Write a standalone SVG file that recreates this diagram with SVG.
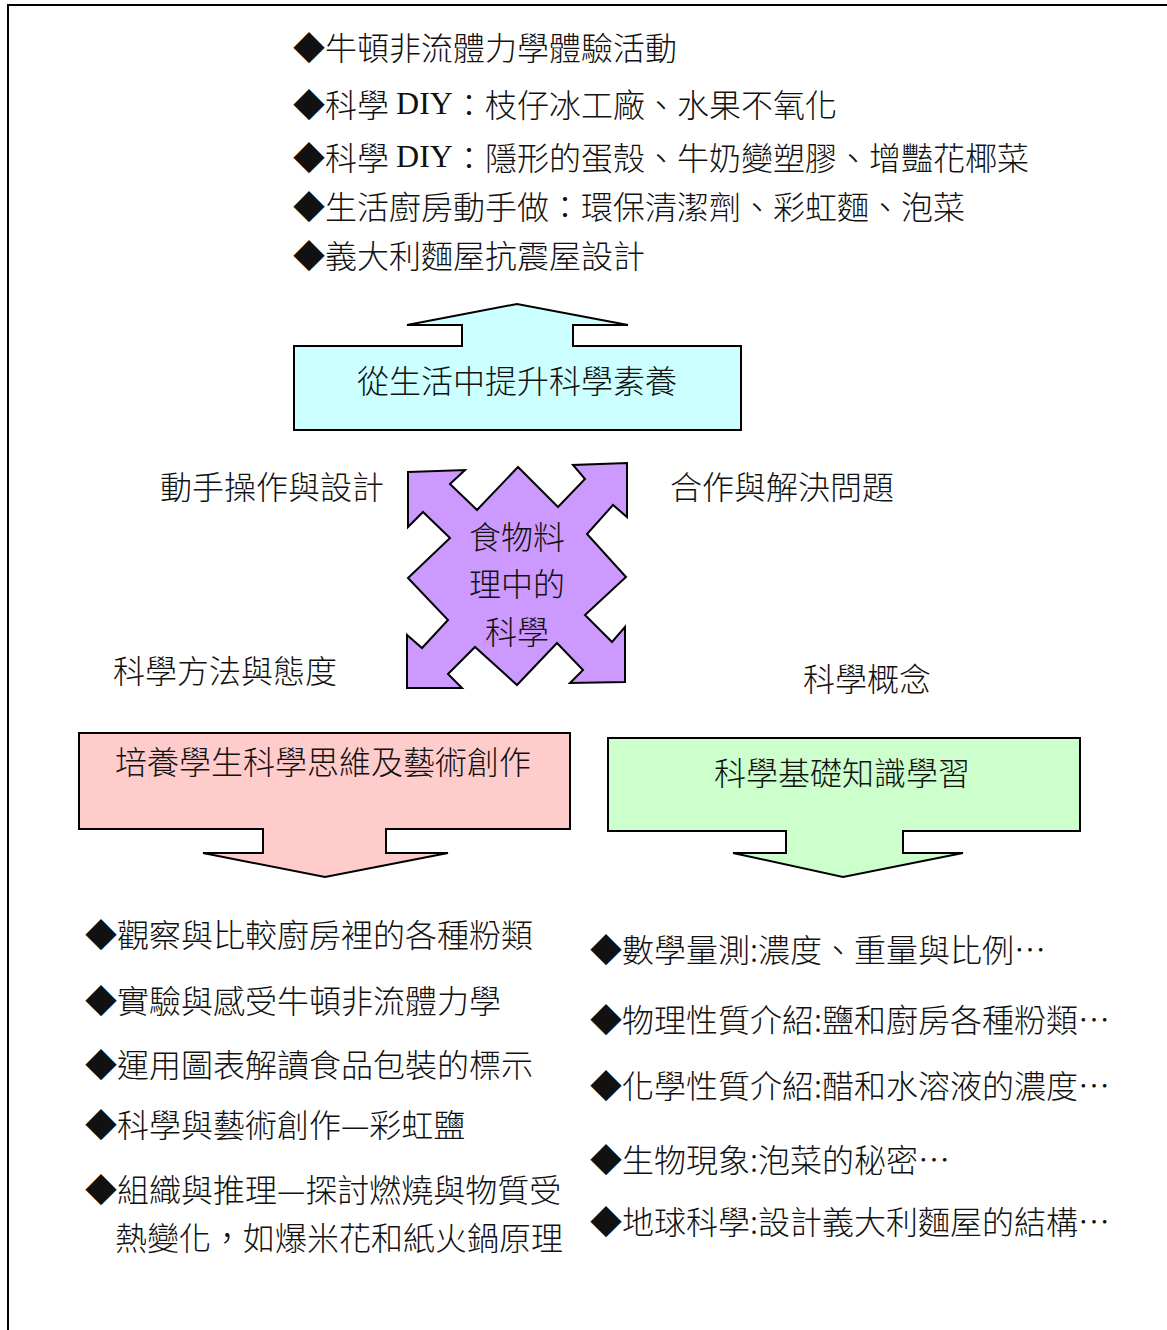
<svg xmlns="http://www.w3.org/2000/svg" width="1167" height="1330" viewBox="0 0 1167 1330">
<style>
  .t { font-family: "Noto Sans CJK TC", "Noto Sans CJK SC", sans-serif; font-size: 32px; font-weight: 300; fill: #111; dominant-baseline: central; }
  .c { text-anchor: middle; }
  .lat { font-family: "Liberation Serif", serif; }
  .shape { stroke: #000; stroke-width: 2; stroke-linejoin: miter; }
</style>
<rect width="1167" height="1330" fill="#fff"/>
<g id="frame">
  <path d="M1167,5 H8 V1330" fill="none" stroke="#000" stroke-width="2"/>
</g>
<g id="top-list">
  <text class="t" x="293" y="46">◆牛頓非流體力學體驗活動</text>
  <text class="t" x="293" y="103">◆科學 <tspan class="lat">DIY</tspan>：枝仔冰工廠、水果不氧化</text>
  <text class="t" x="293" y="156">◆科學 <tspan class="lat">DIY</tspan>：隱形的蛋殼、牛奶變塑膠、增豔花椰菜</text>
  <text class="t" x="293" y="205">◆生活廚房動手做：環保清潔劑、彩虹麵、泡菜</text>
  <text class="t" x="293" y="254">◆義大利麵屋抗震屋設計</text>
</g>
<g id="node-literacy">
  <polygon class="shape" fill="#CCFFFF" points="294,346 462,346 462,325 407,325 517,304 628,325 573,325 573,346 741,346 741,430 294,430"/>
  <text class="t c" x="517" y="379">從生活中提升科學素養</text>
</g>
<g id="node-center">
  <polygon class="shape" fill="#CC99FF" points="408,472 465,470 450,484 477,510 518,467 558,507 585,479 573,465 627,463 627,517 613,505 587,534 626,577 585,615 612,642 625,627 625,682 570,683 583,670 557,643 517,685 475,647 448,674 462,688 407,688 407,635 422,648 448,620 408,578 450,538 423,512 408,527"/>
  <text class="t c" x="517" y="535">食物料</text>
  <text class="t c" x="517" y="582">理中的</text>
  <text class="t c" x="517" y="630">科學</text>
</g>
<g id="labels">
  <text class="t" x="160" y="485">動手操作與設計</text>
  <text class="t" x="670" y="485">合作與解決問題</text>
  <text class="t" x="113" y="669">科學方法與態度</text>
  <text class="t" x="803" y="677">科學概念</text>
</g>
<g id="node-thinking">
  <polygon class="shape" fill="#FFCCCC" points="79,733 570,733 570,829 386,829 386,853 448,853 325,877 203,853 263,853 263,829 79,829"/>
  <text class="t c" x="323" y="760">培養學生科學思維及藝術創作</text>
</g>
<g id="node-knowledge">
  <polygon class="shape" fill="#CCFFCC" points="608,738 1080,738 1080,831 903,831 903,853 963,853 843,877 733,853 786,853 786,831 608,831"/>
  <text class="t c" x="842" y="771">科學基礎知識學習</text>
</g>
<g id="left-list">
  <text class="t" x="85" y="933">◆觀察與比較廚房裡的各種粉類</text>
  <text class="t" x="85" y="999">◆實驗與感受牛頓非流體力學</text>
  <text class="t" x="85" y="1063">◆運用圖表解讀食品包裝的標示</text>
  <text class="t" x="85" y="1123">◆科學與藝術創作—彩虹鹽</text>
  <text class="t" x="85" y="1188">◆組織與推理—探討燃燒與物質受</text>
  <text class="t" x="115" y="1236">熱變化，如爆米花和紙火鍋原理</text>
</g>
<g id="right-list">
  <text class="t" x="590" y="948">◆數學量測:濃度、重量與比例…</text>
  <text class="t" x="590" y="1018">◆物理性質介紹:鹽和廚房各種粉類…</text>
  <text class="t" x="590" y="1084">◆化學性質介紹:醋和水溶液的濃度…</text>
  <text class="t" x="590" y="1158">◆生物現象:泡菜的秘密…</text>
  <text class="t" x="590" y="1220">◆地球科學:設計義大利麵屋的結構…</text>
</g>
<g id="connectors"></g>
</svg>
